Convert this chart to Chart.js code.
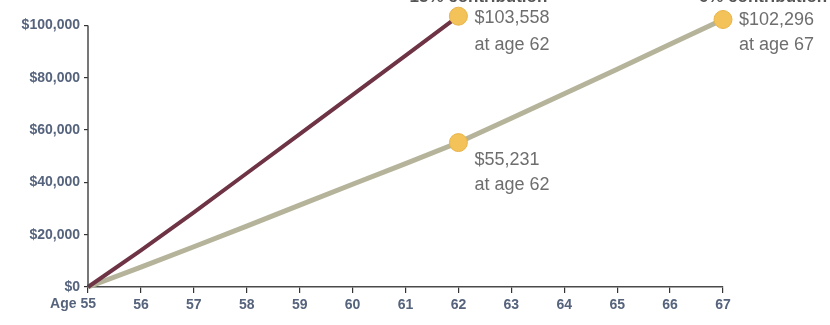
<!DOCTYPE html>
<html><head><meta charset="utf-8">
<script src="https://cdn.jsdelivr.net/npm/chart.js@4.4.1/dist/chart.umd.min.js"></script>
<style>html,body{margin:0;padding:0;background:#fff}#wrap{width:830px;height:325px;position:relative}</style>
</head><body><div id="wrap"><canvas id="c" width="830" height="325"></canvas></div>
<script>
const ages = [55,56,57,58,59,60,61,62,63,64,65,66,67];
const series15 = [0,14000,28500,43500,58500,73500,88500,103558];
const series6 = [0,7600,15400,23300,31300,39300,47200,55231,64500,73900,83300,92800,102296];
const yTicks = [0,20000,40000,60000,80000,100000];
const seriesNames = ['15% contribution','6% contribution'];
const callouts = [
  {series:0, index:7, lines:['$103,558','at age 62'], dy:[2,29]},
  {series:1, index:7, lines:['$55,231','at age 62'], dy:[17,42]},
  {series:1, index:12, lines:['$102,296','at age 67'], dy:[1,26]}
];
const FONT = "'Liberation Sans',Arial,Helvetica,sans-serif";
const pts = (arr)=>arr.map((v,i)=>({x:ages[i], y:v}));
const markerRadius = (s)=> (ctx)=> callouts.some(c=>c.index===ctx.dataIndex && c.series===s) ? 9 : 0;
const plugin = {
  id:'extras',
  afterDraw(chart){
    const c = chart.ctx, xs = chart.scales.x, ys = chart.scales.y;
    c.save();
    c.strokeStyle = '#4a4a4a'; c.lineWidth = 1.5;
    c.beginPath();
    c.moveTo(xs.left, ys.getPixelForValue(yTicks[yTicks.length-1]));
    c.lineTo(xs.left, ys.getPixelForValue(0));
    c.stroke();
    c.fillStyle = '#56637d';
    c.font = "bold 14px " + FONT;
    c.textAlign = 'right'; c.textBaseline = 'middle';
    c.fillText('Age ' + ages[0], xs.getPixelForValue(ages[0]) + 8, 304.5);
    c.fillStyle = '#6e6e6e';
    c.font = "18px " + FONT;
    c.textAlign = 'left';
    callouts.forEach(co=>{
      const el = chart.getDatasetMeta(co.series).data[co.index];
      co.lines.forEach((t,k)=> c.fillText(t, el.x + 16, el.y + co.dy[k]));
    });
    c.fillStyle = '#555';
    c.font = "bold 17px " + FONT;
    c.textAlign = 'center'; c.textBaseline = 'alphabetic';
    const e0 = chart.getDatasetMeta(0).data[7], e1 = chart.getDatasetMeta(1).data[12];
    c.fillText(seriesNames[0], e0.x + 20, 2);
    c.fillText(seriesNames[1], e1.x + 40, 2);
    c.restore();
  }
};
new Chart(document.getElementById('c'), {
  type:'line',
  data:{datasets:[
    {label:seriesNames[0], data:pts(series15), borderColor:'#6e3446', borderWidth:4,
     pointRadius:markerRadius(0), pointBackgroundColor:'#f3c258', pointBorderColor:'#e8b44a', pointBorderWidth:1, clip:false, order:1},
    {label:seriesNames[1], data:pts(series6), borderColor:'#b5b49b', borderWidth:5,
     pointRadius:markerRadius(1), pointBackgroundColor:'#f3c258', pointBorderColor:'#e8b44a', pointBorderWidth:1, clip:false, order:2}
  ]},
  options:{
    responsive:false, animation:false,
    layout:{autoPadding:false, padding:{left:0,right:107,top:0,bottom:0}},
    plugins:{legend:{display:false}, tooltip:{enabled:false}},
    scales:{
      x:{type:'linear', min:ages[0], max:ages[ages.length-1],
        afterBuildTicks(s){ s.ticks = ages.map(v=>({value:v})); },
        afterFit(s){ s.height = 38; s.paddingLeft = 0; s.paddingRight = 0; },
        border:{display:true, color:'#4a4a4a', width:1.5},
        grid:{drawOnChartArea:false, drawTicks:true, tickLength:6, color:'#333', lineWidth:1.2},
        ticks:{padding:4, color:'#56637d', font:{family:FONT, size:14, weight:'bold'}, maxRotation:0, autoSkip:false,
          callback:(v)=> v===ages[0] ? '' : String(v)}
      },
      y:{min:0, max:109750,
        afterBuildTicks(s){ s.ticks = yTicks.map(v=>({value:v})); },
        afterFit(s){ s.width = 88; s.paddingTop = 0; s.paddingBottom = 0; },
        border:{display:false},
        grid:{drawOnChartArea:false, drawTicks:true, tickLength:4, color:'#333', lineWidth:1.2},
        ticks:{padding:4, color:'#56637d', font:{family:FONT, size:14, weight:'bold'},
          callback:(v)=> '$' + v.toLocaleString('en-US')}
      }
    }
  },
  plugins:[plugin]
});
</script></body></html>
